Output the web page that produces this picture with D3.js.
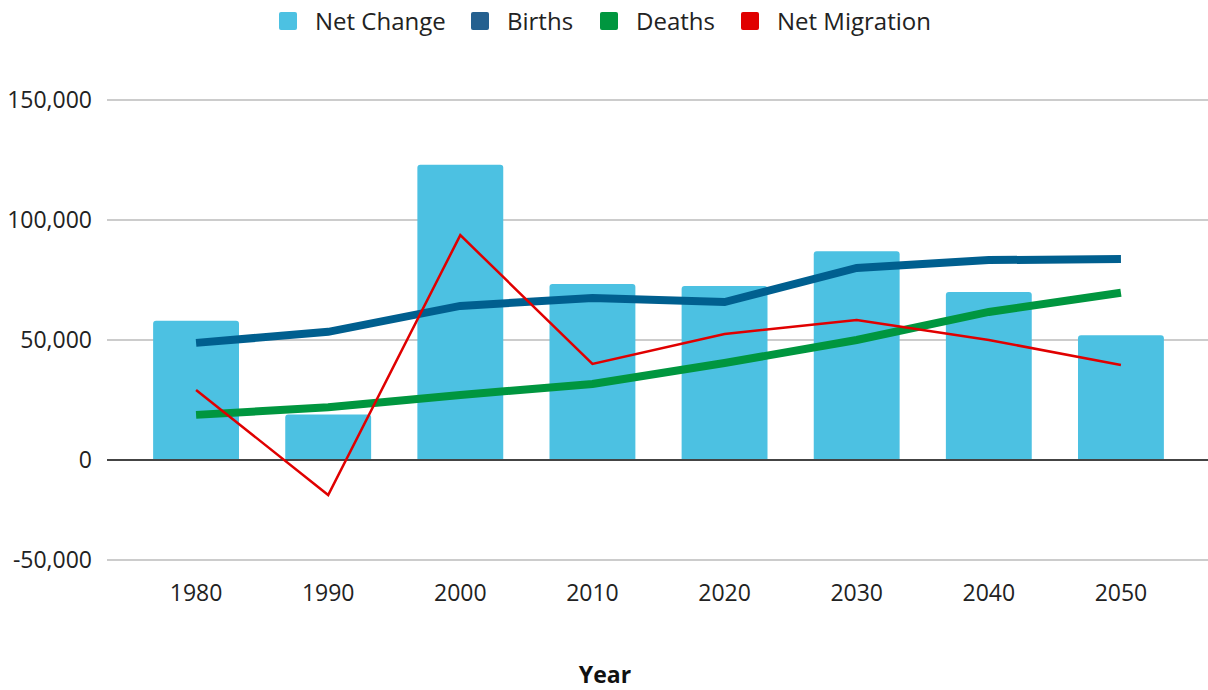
<!DOCTYPE html>
<html>
<head>
<meta charset="utf-8">
<script src="https://cdn.jsdelivr.net/npm/d3@7"></script>
<style>
  html, body { margin: 0; padding: 0; background: #fff; }
  svg { display: block; font-family: "Open Sans", "Noto Sans", sans-serif; }
</style>
</head>
<body>
<svg id="chart" width="1208" height="690"></svg>
<script>
// Population components by decade
const years = ["1980", "1990", "2000", "2010", "2020", "2030", "2040", "2050"];
const netChange    = [58000, 19000, 123000, 73300, 72500, 87000, 70000, 52000];
const births       = [48800, 53400, 64200, 67500, 65800, 80000, 83300, 83700];
const deaths       = [18800, 22000, 27100, 31700, 40400, 50000, 61700, 69700];
const netMigration = [29200, -17500, 93700, 40000, 52500, 58300, 50000, 39600];
const yTicks = [-50000, 0, 50000, 100000, 150000];

const seriesInfo = [
  { name: "Net Change",    color: "#4cc1e2", swatch: "#4cc1e2" },
  { name: "Births",        color: "#005f8f", swatch: "#24608f" },
  { name: "Deaths",        color: "#00963f", swatch: "#00963f" },
  { name: "Net Migration", color: "#e00000", swatch: "#e00000" }
];

const svg = d3.select("#chart");
const plotLeft = 107, plotRight = 1208;

const x = d3.scaleBand()
  .domain(years)
  .range([130, 1187])
  .paddingInner(0.35)
  .paddingOuter(0.175);

// The value axis below zero is drawn compressed
const y = d3.scaleLinear()
  .domain([-50000, 0, 150000])
  .range([560, 460, 100]);

// Thousands separator with a plain hyphen for negatives
const fmt = d => d3.format(",")(d).replace("\u2212", "-");

// Gridlines
svg.append("g")
  .selectAll("line")
  .data(yTicks.filter(d => d !== 0))
  .join("line")
  .attr("x1", plotLeft).attr("x2", plotRight)
  .attr("y1", d => y(d)).attr("y2", d => y(d))
  .attr("stroke", "#cccccc").attr("stroke-width", 2);

// Y axis labels
const yAxis = d3.axisLeft(y).tickValues(yTicks).tickFormat(fmt).tickSize(0).tickPadding(0);
const yg = svg.append("g").attr("transform", "translate(92,0)").call(yAxis);
yg.select(".domain").remove();
yg.selectAll("text").attr("font-size", 23).attr("fill", "#222")
  .attr("font-family", "'Open Sans', sans-serif");

// Bars with slightly rounded tops
const bw = x.bandwidth(), r = 3;
svg.append("g")
  .selectAll("path")
  .data(years.map((yr, i) => ({ yr, v: netChange[i] })))
  .join("path")
  .attr("d", d => {
    const x0 = x(d.yr), x1 = x0 + bw, top = y(d.v), base = y(0);
    return `M${x0},${base}V${top + r}Q${x0},${top} ${x0 + r},${top}H${x1 - r}Q${x1},${top} ${x1},${top + r}V${base}Z`;
  })
  .attr("fill", "#4cc1e2");

// Zero baseline
svg.append("line")
  .attr("x1", plotLeft).attr("x2", plotRight)
  .attr("y1", y(0)).attr("y2", y(0))
  .attr("stroke", "#444").attr("stroke-width", 2);

// Lines
const cx = yr => x(yr) + bw / 2;
const line = d3.line().x((d, i) => cx(years[i])).y(d => y(d));

svg.append("path").datum(births)
  .attr("d", line).attr("fill", "none")
  .attr("stroke", seriesInfo[1].color).attr("stroke-width", 8);

svg.append("path").datum(deaths)
  .attr("d", line).attr("fill", "none")
  .attr("stroke", seriesInfo[2].color).attr("stroke-width", 8);

svg.append("path").datum(netMigration)
  .attr("d", line).attr("fill", "none")
  .attr("stroke", seriesInfo[3].color).attr("stroke-width", 2.5);

// X axis labels
const xAxis = d3.axisBottom(x).tickSize(0).tickPadding(0);
const xg = svg.append("g").attr("transform", "translate(0,585)").call(xAxis);
xg.select(".domain").remove();
xg.selectAll("text").attr("font-size", 23).attr("fill", "#222")
  .attr("font-family", "'Open Sans', sans-serif");

// Axis title
svg.append("text")
  .attr("x", 605).attr("y", 683)
  .attr("text-anchor", "middle")
  .attr("font-size", 23).attr("font-weight", "bold").attr("fill", "#111")
  .text("Year");

// Legend
const legendX = [279, 471, 600, 741];
const lg = svg.append("g")
  .selectAll("g")
  .data(seriesInfo)
  .join("g")
  .attr("transform", (d, i) => `translate(${legendX[i]},12)`);
lg.append("rect")
  .attr("width", 18).attr("height", 18).attr("rx", 2)
  .attr("fill", d => d.swatch);
lg.append("text")
  .attr("x", 36).attr("y", 18)
  .attr("font-size", 24).attr("fill", "#222")
  .text(d => d.name);
</script>
</body>
</html>
